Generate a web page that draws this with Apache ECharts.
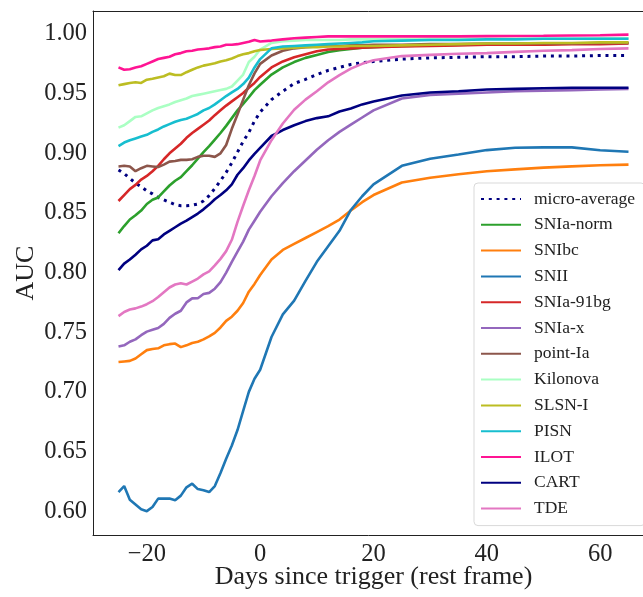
<!DOCTYPE html>
<html>
<head>
<meta charset="utf-8">
<script src="https://cdn.jsdelivr.net/npm/echarts@6/dist/echarts.min.js"></script>
<style>
html,body{margin:0;padding:0;background:#fff;}
#chart{width:643px;height:597px;}
</style>
</head>
<body>
<div id="chart"></div>
<script>
// Days since trigger (rest frame)
const days = [-25,-24,-23,-22,-21,-20,-19,-18,-17,-16,-15,-14,-13,-12,-11,-10,-9,-8,-7,-6,-5,-4,-3,-2,-1,0,
  2,4,6,8,10,12,14,16,18,20,
  25,30,35,40,45,50,55,60,65];

const microAverage = [0.886,0.883,0.879,0.875,0.872,0.8685,0.866,0.863,0.861,0.859,0.857,0.856,0.856,0.8565,0.8575,0.860,0.8645,0.8705,0.877,0.884,0.892,0.901,0.910,0.9175,0.927,0.9345,
  0.945,0.952,0.9585,0.962,0.966,0.9695,0.972,0.9745,0.976,0.977,
  0.979,0.980,0.9805,0.981,0.981,0.9815,0.9815,0.982,0.982];
const sniaNorm = [0.833,0.839,0.8445,0.848,0.852,0.8575,0.861,0.863,0.868,0.873,0.877,0.880,0.885,0.890,0.8955,0.901,0.906,0.9115,0.917,0.923,0.9295,0.936,0.9415,0.947,0.953,0.9575,
  0.966,0.972,0.9765,0.980,0.9825,0.985,0.9865,0.9875,0.9885,0.989,
  0.990,0.9905,0.991,0.991,0.9915,0.9915,0.992,0.992,0.9925];
const snibc = [0.725,0.7255,0.726,0.728,0.7315,0.735,0.736,0.7365,0.739,0.740,0.7405,0.7375,0.739,0.741,0.742,0.744,0.7465,0.7495,0.754,0.7595,0.763,0.768,0.7745,0.784,0.7905,0.798,
  0.811,0.819,0.824,0.829,0.834,0.839,0.8445,0.852,0.859,0.865,
  0.8755,0.8795,0.8825,0.885,0.8865,0.888,0.889,0.890,0.8905];
const snii = [0.616,0.621,0.6095,0.6055,0.6015,0.600,0.6035,0.6105,0.6105,0.6105,0.6092,0.613,0.620,0.623,0.6185,0.6175,0.616,0.621,0.632,0.644,0.655,0.668,0.684,0.700,0.711,0.7185,
  0.746,0.765,0.7765,0.793,0.809,0.822,0.835,0.8525,0.864,0.874,
  0.8895,0.8955,0.899,0.9027,0.9047,0.905,0.905,0.9025,0.9013];
const snia91bg = [0.860,0.865,0.870,0.8735,0.878,0.881,0.885,0.8895,0.895,0.900,0.904,0.908,0.913,0.917,0.9205,0.924,0.9275,0.932,0.936,0.940,0.9435,0.947,0.9505,0.955,0.959,0.964,
  0.972,0.977,0.9805,0.983,0.9855,0.987,0.9875,0.988,0.9885,0.989,
  0.9895,0.990,0.9905,0.991,0.991,0.991,0.9915,0.9915,0.992];
const sniax = [0.738,0.739,0.742,0.744,0.7475,0.7505,0.752,0.7535,0.757,0.762,0.7655,0.768,0.775,0.7784,0.7785,0.782,0.783,0.7865,0.792,0.800,0.809,0.8175,0.826,0.836,0.8435,0.851,
  0.864,0.875,0.885,0.894,0.903,0.911,0.918,0.924,0.930,0.936,
  0.946,0.949,0.950,0.951,0.952,0.9525,0.953,0.9535,0.954];
const pointIa = [0.889,0.8895,0.889,0.885,0.8875,0.8895,0.889,0.8885,0.8905,0.893,0.8935,0.8945,0.8945,0.895,0.897,0.898,0.898,0.897,0.900,0.907,0.9205,0.9325,0.945,0.957,0.967,0.975,
  0.982,0.986,0.988,0.989,0.9895,0.990,0.990,0.9905,0.9905,0.991,
  0.991,0.9915,0.9915,0.992,0.992,0.992,0.992,0.9925,0.9925];
const kilonova = [0.9215,0.9235,0.927,0.9305,0.931,0.9335,0.936,0.938,0.9395,0.941,0.943,0.9445,0.946,0.948,0.949,0.950,0.951,0.952,0.953,0.954,0.956,0.961,0.966,0.9765,0.981,0.987,
  0.9925,0.994,0.9945,0.995,0.995,0.995,0.995,0.9955,0.9955,0.9955,
  0.9955,0.996,0.996,0.996,0.996,0.996,0.996,0.9965,0.9965];
const slsnI = [0.957,0.958,0.959,0.9595,0.959,0.9617,0.9625,0.9636,0.9646,0.9668,0.9656,0.9656,0.968,0.970,0.972,0.9735,0.9745,0.9755,0.977,0.978,0.9795,0.9815,0.983,0.984,0.9855,0.9866,
  0.9875,0.988,0.9885,0.989,0.989,0.9895,0.9895,0.990,0.990,0.990,
  0.9905,0.991,0.9915,0.992,0.992,0.9925,0.9925,0.993,0.993];
const pisn = [0.906,0.909,0.911,0.9125,0.914,0.9155,0.918,0.920,0.9225,0.9245,0.9265,0.928,0.929,0.931,0.933,0.936,0.938,0.941,0.9445,0.948,0.951,0.954,0.958,0.9635,0.972,0.979,
  0.988,0.9895,0.990,0.9905,0.991,0.9915,0.992,0.9925,0.993,0.994,
  0.9945,0.995,0.995,0.9955,0.9955,0.996,0.996,0.996,0.996];
const ilot = [0.972,0.970,0.9705,0.972,0.973,0.975,0.977,0.979,0.980,0.981,0.983,0.984,0.9855,0.986,0.987,0.9875,0.988,0.989,0.9895,0.991,0.991,0.9915,0.9925,0.9935,0.995,0.9937,
  0.9945,0.9955,0.9965,0.997,0.9975,0.998,0.998,0.998,0.998,0.998,
  0.998,0.998,0.998,0.9982,0.9984,0.9985,0.9988,0.999,0.9995];
const cart = [0.802,0.8075,0.811,0.815,0.8195,0.8225,0.827,0.828,0.832,0.835,0.838,0.841,0.8435,0.8465,0.8495,0.853,0.857,0.8615,0.865,0.869,0.874,0.882,0.8875,0.894,0.8995,0.9045,
  0.9145,0.9195,0.9235,0.927,0.9295,0.931,0.935,0.9375,0.941,0.9435,
  0.9485,0.951,0.952,0.9535,0.954,0.9545,0.955,0.955,0.955];
const tde = [0.7635,0.767,0.769,0.770,0.7715,0.7735,0.776,0.7795,0.7835,0.7875,0.790,0.791,0.790,0.7925,0.795,0.7985,0.801,0.806,0.8115,0.818,0.8275,0.8425,0.856,0.869,0.881,0.894,
  0.911,0.925,0.9365,0.945,0.952,0.9595,0.9655,0.971,0.975,0.978,
  0.9815,0.9825,0.9835,0.984,0.985,0.986,0.9865,0.9875,0.988];

const xTicks = [-20, 0, 20, 40, 60];
const yTicks = [0.60, 0.65, 0.70, 0.75, 0.80, 0.85, 0.90, 0.95, 1.00];

const seriesDefs = [
  {name: 'micro-average', values: microAverage, color: '#000080', dotted: true},
  {name: 'SNIa-norm', values: sniaNorm, color: '#2ca02c'},
  {name: 'SNIbc', values: snibc, color: '#ff7f0e'},
  {name: 'SNII', values: snii, color: '#1f77b4'},
  {name: 'SNIa-91bg', values: snia91bg, color: '#d62728'},
  {name: 'SNIa-x', values: sniax, color: '#9467bd'},
  {name: 'point-Ia', values: pointIa, color: '#8c564b'},
  {name: 'Kilonova', values: kilonova, color: '#aaffc3'},
  {name: 'SLSN-I', values: slsnI, color: '#bcbd22'},
  {name: 'PISN', values: pisn, color: '#17becf'},
  {name: 'ILOT', values: ilot, color: '#ff1493'},
  {name: 'CART', values: cart, color: '#000080'},
  {name: 'TDE', values: tde, color: '#e377c2'}
];

const FONT = 'Liberation Serif';
const chart = echarts.init(document.getElementById('chart'), null, {renderer: 'canvas'});

const series = seriesDefs.map((s, k) => ({
  name: s.name,
  type: 'line',
  xAxisIndex: 0,
  yAxisIndex: 0,
  data: days.map((d, i) => [d, s.values[i]]),
  showSymbol: false,
  symbol: 'none',
  smooth: false,
  animation: false,
  z: 2 + k,
  color: s.color,
  lineStyle: s.dotted
    ? {color: s.color, width: 3, type: [3, 4.8], cap: 'butt'}
    : {color: s.color, width: 2.6}
}));

const option = {
  backgroundColor: '#fff',
  animation: false,
  grid: {left: 93, right: -11, top: 11, bottom: 62, containLabel: false, outerBoundsMode: 'none'},
  legend: {
    orient: 'vertical',
    left: 474,
    top: 183,
    padding: [7, 10, 8, 6],
    itemWidth: 40,
    itemHeight: 14,
    itemGap: 7.8,
    itemStyle: {opacity: 0, borderWidth: 0},
    backgroundColor: 'rgba(255,255,255,0.85)',
    borderColor: '#d9d9d9',
    borderWidth: 1,
    borderRadius: 4,
    textStyle: {fontFamily: FONT, fontSize: 17.5, color: '#222', lineHeight: 18, padding: [0, 0, 0, 8]},
    data: seriesDefs.map(s => s.name)
  },
  xAxis: [{
    type: 'value',
    min: -29.5,
    max: 69.5,
    position: 'bottom',
    axisLine: {show: true, onZero: false, lineStyle: {color: '#222', width: 1}},
    axisTick: {show: false},
    splitLine: {show: false},
    axisLabel: {
      customValues: xTicks,
      fontFamily: FONT, fontSize: 24.5, color: '#222', margin: 7,
      formatter: v => (v < 0 ? '\u2212' + (-v) : String(v))
    },
    name: 'Days since trigger (rest frame)',
    nameLocation: 'middle',
    nameGap: 29,
    nameMoveOverlap: false,
    nameTextStyle: {fontFamily: FONT, fontSize: 26, color: '#222', verticalAlign: 'top'}
  }, {
    type: 'value',
    min: -29.5,
    max: 69.5,
    position: 'top',
    axisLine: {show: true, onZero: false, lineStyle: {color: '#222', width: 1}},
    axisTick: {show: false},
    axisLabel: {show: false},
    splitLine: {show: false}
  }],
  yAxis: [{
    type: 'value',
    min: 0.58,
    max: 1.0193,
    axisLine: {show: true, onZero: false, lineStyle: {color: '#222', width: 1}},
    axisTick: {show: false},
    splitLine: {show: false},
    axisLabel: {
      customValues: yTicks,
      fontFamily: FONT, fontSize: 24.5, color: '#222', margin: 6,
      formatter: v => v.toFixed(2)
    },
    name: 'AUC',
    nameLocation: 'middle',
    nameGap: 54,
    nameMoveOverlap: false,
    nameTextStyle: {fontFamily: FONT, fontSize: 26, color: '#222'}
  }],
  series: series
};
chart.setOption(option);
</script>
</body>
</html>
